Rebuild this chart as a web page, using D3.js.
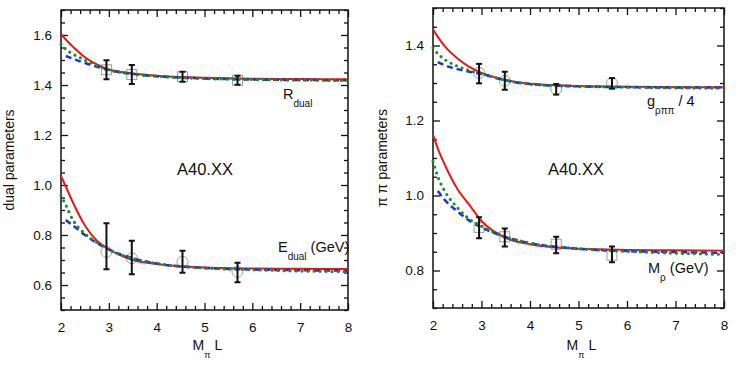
<!DOCTYPE html>
<html>
<head>
<meta charset="utf-8">
<script src="https://cdn.jsdelivr.net/npm/d3@7"></script>
<style>
  body { margin: 0; background: #fff; }
  text { font-family: "Liberation Sans", Arial, sans-serif; fill: #111; }
</style>
</head>
<body>
<svg width="739" height="365"></svg>
<script>
const curveX = [2, 2.1, 2.25, 2.5, 2.75, 3, 3.5, 4, 5, 6, 7, 8]
// lattice points (M_pi L)
const pointX = [2.95, 3.48, 4.54, 5.69]

// left panel, R_dual
const rDualRed   = [1.604, 1.582, 1.553, 1.511, 1.482, 1.462, 1.446, 1.437, 1.429, 1.425, 1.424, 1.423]
const rDualGreen = [1.564, 1.543, 1.524, 1.500, 1.478, 1.461, 1.444, 1.435, 1.426, 1.422, 1.420, 1.418]
const rDualBlue  = [null, 1.516, 1.505, 1.488, 1.473, 1.460, 1.444, 1.435, 1.426, 1.422, 1.420, 1.419]
const rDualVal   = [1.461, 1.442, 1.433, 1.419]
const rDualErr   = [0.038, 0.038, 0.020, 0.018]
const rDualMark  = [1.461, 1.442, 1.433, 1.419]

// left panel, E_dual
const eDualRed   = [1.036, 0.994, 0.930, 0.838, 0.777, 0.743, 0.700, 0.684, 0.670, 0.666, 0.665, 0.664]
const eDualGreen = [0.958, 0.920, 0.860, 0.805, 0.770, 0.742, 0.706, 0.686, 0.668, 0.661, 0.656, 0.653]
const eDualBlue  = [null, 0.860, 0.838, 0.800, 0.768, 0.742, 0.707, 0.686, 0.668, 0.662, 0.659, 0.657]
const eDualVal   = [0.755, 0.710, 0.693, 0.650]
const eDualErr   = [0.092, 0.067, 0.044, 0.039]
const eDualMark  = [0.733, 0.707, 0.693, 0.653]

// right panel, g_rhopipi / 4
const gRed   = [1.443, 1.423, 1.397, 1.366, 1.343, 1.327, 1.308, 1.298, 1.292, 1.290, 1.289, 1.289]
const gGreen = [1.394, 1.378, 1.362, 1.345, 1.333, 1.325, 1.307, 1.297, 1.291, 1.289, 1.287, 1.286]
const gBlue  = [null, 1.356, 1.347, 1.337, 1.330, 1.324, 1.307, 1.297, 1.291, 1.289, 1.288, 1.288]
const gVal   = [1.325, 1.306, 1.283, 1.299]
const gErr   = [0.026, 0.024, 0.014, 0.014]
const gMark  = [1.327, 1.306, 1.284, 1.300]

// right panel, M_rho
const mRed   = [1.162, 1.125, 1.080, 1.018, 0.975, 0.932, 0.887, 0.870, 0.858, 0.855, 0.854, 0.853]
const mGreen = [1.091, 1.050, 1.010, 0.968, 0.937, 0.918, 0.890, 0.873, 0.858, 0.851, 0.846, 0.843]
const mBlue  = [null, 1.012, 0.987, 0.958, 0.933, 0.915, 0.889, 0.873, 0.858, 0.852, 0.849, 0.847]
const mVal   = [0.914, 0.888, 0.868, 0.843]
const mErr   = [0.028, 0.024, 0.022, 0.021]
const mMark  = [0.915, 0.890, 0.870, 0.841]

const xTicks = [2, 3, 4, 5, 6, 7, 8]
const leftYTicks = [0.6, 0.8, 1.0, 1.2, 1.4, 1.6]
const rightYTicks = [0.8, 1.0, 1.2, 1.4]

const svg = d3.select('svg')

const panels = [
  {
    left: 61, top: 10, width: 287, height: 300, yDomain: [0.5, 1.7], yTicks: leftYTicks,
    yLabel: 'dual parameters', yLabelX: 14, tag: 'A40.XX', tagX: 205,
    sets: [
      { red: rDualRed, green: rDualGreen, blue: rDualBlue, val: rDualVal, err: rDualErr, mark: rDualMark, shape: 'square' },
      { red: eDualRed, green: eDualGreen, blue: eDualBlue, val: eDualVal, err: eDualErr, mark: eDualMark, shape: 'circle' }
    ]
  },
  {
    left: 433, top: 8, width: 291, height: 300, yDomain: [0.7, 1.5], yTicks: rightYTicks,
    yLabel: 'π π parameters', yLabelX: 387, tag: 'A40.XX', tagX: 576,
    sets: [
      { red: gRed, green: gGreen, blue: gBlue, val: gVal, err: gErr, mark: gMark, shape: 'circle' },
      { red: mRed, green: mGreen, blue: mBlue, val: mVal, err: mErr, mark: mMark, shape: 'square' }
    ]
  }
]

panels.forEach(p => {
  const g = svg.append('g').attr('transform', `translate(${p.left},${p.top})`)
  const x = d3.scaleLinear().domain([2, 8]).range([0, p.width])
  const y = d3.scaleLinear().domain(p.yDomain).range([p.height, 0])

  const xMinor = d3.range(2, 8.001, 0.2).filter(v => Math.abs(v - Math.round(v)) > 1e-6)
  const yMinor = d3.range(p.yDomain[0], p.yDomain[1] + 1e-6, 0.05)
    .filter(v => !p.yTicks.some(t => Math.abs(t - v) < 1e-6))

  // major ticks with labels
  g.append('g').attr('transform', `translate(0,${p.height})`)
    .call(d3.axisBottom(x).tickValues(xTicks).tickSize(-7).tickSizeOuter(0).tickPadding(12).tickFormat(d3.format('d')))
  g.append('g')
    .call(d3.axisLeft(y).tickValues(p.yTicks).tickSize(-7).tickSizeOuter(0).tickPadding(9).tickFormat(d3.format('.1f')))
  g.append('g')
    .call(d3.axisTop(x).tickValues(xTicks).tickSize(-7).tickSizeOuter(0).tickFormat(''))
  g.append('g').attr('transform', `translate(${p.width},0)`)
    .call(d3.axisRight(y).tickValues(p.yTicks).tickSize(-7).tickSizeOuter(0).tickFormat(''))

  // minor ticks
  g.append('g').attr('transform', `translate(0,${p.height})`)
    .call(d3.axisBottom(x).tickValues(xMinor).tickSize(-4).tickSizeOuter(0).tickFormat(''))
  g.append('g')
    .call(d3.axisTop(x).tickValues(xMinor).tickSize(-4).tickSizeOuter(0).tickFormat(''))
  g.append('g')
    .call(d3.axisLeft(y).tickValues(yMinor).tickSize(-4).tickSizeOuter(0).tickFormat(''))
  g.append('g').attr('transform', `translate(${p.width},0)`)
    .call(d3.axisRight(y).tickValues(yMinor).tickSize(-4).tickSizeOuter(0).tickFormat(''))

  g.selectAll('.domain').remove()
  g.selectAll('.tick line').attr('stroke', '#111').attr('stroke-width', 1.3)
  g.selectAll('.tick text').attr('font-size', 13.5).attr('fill', '#111')
    .style('font-family', '"Liberation Sans", Arial, sans-serif')

  g.append('rect')
    .attr('width', p.width).attr('height', p.height)
    .attr('fill', 'none').attr('stroke', '#111').attr('stroke-width', 1.5)

  const marks = g.append('g')

  p.sets.forEach(s => {
    const line = vals => d3.line()
      .defined((d, i) => vals[i] !== null)
      .x((d, i) => x(curveX[i]))
      .y((d, i) => y(vals[i]))
      .curve(d3.curveMonotoneX)(curveX)

    // markers
    if (s.shape === 'square') {
      marks.selectAll(null).data(pointX).enter().append('rect')
        .attr('x', d => x(d) - 5).attr('y', (d, i) => y(s.mark[i]) - 5)
        .attr('width', 10).attr('height', 10)
        .attr('fill', 'none').attr('stroke', '#a0a0a0').attr('stroke-width', 1)
    } else {
      marks.selectAll(null).data(pointX).enter().append('circle')
        .attr('cx', d => x(d)).attr('cy', (d, i) => y(s.mark[i])).attr('r', 5.5)
        .attr('fill', 'none').attr('stroke', '#a0a0a0').attr('stroke-width', 1)
    }

    marks.append('path').attr('d', line(s.red))
      .attr('fill', 'none').attr('stroke', '#e4191b').attr('stroke-width', 2)
    marks.append('path').attr('d', line(s.blue))
      .attr('fill', 'none').attr('stroke', '#1f2fd6').attr('stroke-width', 2.5)
      .attr('stroke-dasharray', '6 4')
    marks.append('path').attr('d', line(s.green))
      .attr('fill', 'none').attr('stroke', '#1d8a2c').attr('stroke-width', 3.2)
      .attr('stroke-linecap', 'round').attr('stroke-dasharray', '0 6')

    // error bars
    const eb = marks.selectAll(null).data(pointX).enter().append('g')
      .attr('stroke', '#111').attr('stroke-width', 2)
    eb.append('line')
      .attr('x1', d => x(d)).attr('x2', d => x(d))
      .attr('y1', (d, i) => y(s.val[i] + s.err[i])).attr('y2', (d, i) => y(s.val[i] - s.err[i]))
    eb.append('line')
      .attr('x1', d => x(d) - 3).attr('x2', d => x(d) + 3)
      .attr('y1', (d, i) => y(s.val[i] + s.err[i])).attr('y2', (d, i) => y(s.val[i] + s.err[i]))
    eb.append('line')
      .attr('x1', d => x(d) - 3).attr('x2', d => x(d) + 3)
      .attr('y1', (d, i) => y(s.val[i] - s.err[i])).attr('y2', (d, i) => y(s.val[i] - s.err[i]))
  })

  // tag
  svg.append('text').attr('x', p.tagX).attr('y', 175)
    .attr('text-anchor', 'middle').attr('font-size', 16.5).text(p.tag)

  // y label
  svg.append('text')
    .attr('transform', `translate(${p.yLabelX},${p.top + p.height / 2}) rotate(-90)`)
    .attr('text-anchor', 'middle').attr('font-size', 14).text(p.yLabel)

  // x label
  const xl = svg.append('text').attr('x', p.left + p.width / 2 - 12).attr('y', 350).attr('font-size', 14)
  xl.append('tspan').text('M')
  xl.append('tspan').attr('font-size', 9).attr('dy', 8).text('π')
  xl.append('tspan').attr('dy', -8).attr('dx', 4).text('L')
})

// series labels
const lab = (xp, yp, main, sub, tail) => {
  const t = svg.append('text').attr('x', xp).attr('y', yp).attr('font-size', 14.5)
  t.append('tspan').text(main)
  t.append('tspan').attr('font-size', 10).attr('dy', 8).text(sub)
  if (tail) t.append('tspan').attr('dy', -8).attr('dx', 4).text(tail)
}
lab(283, 99, 'R', 'dual')
lab(278, 252, 'E', 'dual', '(GeV)')
lab(647, 106, 'g', 'ρππ', '/ 4')
lab(648, 273, 'M', 'ρ', '(GeV)')
</script>
</body>
</html>
